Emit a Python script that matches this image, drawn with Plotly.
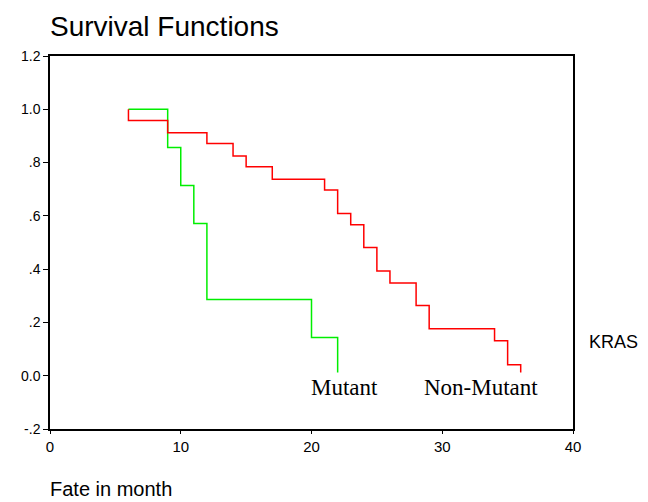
import plotly.graph_objects as go

# Data
mutant_time = [6, 9, 10, 11, 12, 20, 22]
mutant_surv = [1.0, 0.857, 0.714, 0.571, 0.286, 0.143, 0.012]

nonmut_time = [6, 6, 9, 12, 14, 15, 17, 21, 22, 23, 24, 25, 26, 28, 29, 34, 35, 36]
nonmut_surv = [1.0, 0.958, 0.912, 0.872, 0.825, 0.784, 0.737, 0.697, 0.609, 0.567,
               0.481, 0.393, 0.348, 0.264, 0.176, 0.131, 0.041, 0.012]

y_tickvals = [-0.2, 0.0, 0.2, 0.4, 0.6, 0.8, 1.0, 1.2]
y_ticktext = ["-.2", "0.0", ".2", ".4", ".6", ".8", "1.0", "1.2"]
x_tickvals = [0, 10, 20, 30, 40]

SANS = "Liberation Sans, Arial, sans-serif"
SERIF = "Liberation Serif, Times New Roman, serif"

fig = go.Figure()
fig.add_trace(go.Scatter(x=mutant_time, y=mutant_surv, mode="lines", line_shape="hv",
                         line=dict(color="#00ee00", width=1.5), name="Mutant", showlegend=False))
fig.add_trace(go.Scatter(x=nonmut_time, y=nonmut_surv, mode="lines", line_shape="hv",
                         line=dict(color="#ff0000", width=1.5), name="Non-Mutant", showlegend=False))

fig.update_layout(
    width=640, height=494,
    margin=dict(l=42, r=75, t=48, b=73),
    paper_bgcolor="white", plot_bgcolor="white",
    font=dict(family=SANS, color="black"),
    showlegend=False,
    xaxis=dict(range=[0, 40], tickvals=x_tickvals, showgrid=False, zeroline=False,
               showline=True, linecolor="black", linewidth=1.5, mirror=True,
               ticks="outside", ticklen=3, tickcolor="black", tickwidth=1,
               tickfont=dict(family=SANS, size=15, color="black")),
    yaxis=dict(range=[-0.2, 1.2], tickvals=y_tickvals, ticktext=y_ticktext,
               showgrid=False, zeroline=False,
               showline=True, linecolor="black", linewidth=1.5, mirror=True,
               ticks="outside", ticklen=5, tickcolor="black", tickwidth=1,
               tickfont=dict(family=SANS, size=14, color="black")),
    annotations=[
        dict(text="Survival Functions", xref="paper", yref="paper", x=-0.004, y=1.078,
             xanchor="left", yanchor="middle", showarrow=False,
             font=dict(family=SANS, size=28, color="black")),
        dict(text="Fate in month", xref="paper", yref="paper", x=-0.004, y=-0.161,
             xanchor="left", yanchor="middle", showarrow=False,
             font=dict(family=SANS, size=20, color="black")),
        dict(text="KRAS", xref="paper", yref="paper", x=1.078, y=0.233,
             xanchor="center", yanchor="middle", showarrow=False,
             font=dict(family=SANS, size=18, color="black")),
        dict(text="Mutant", xref="x", yref="y", x=22.5, y=-0.045,
             xanchor="center", yanchor="middle", showarrow=False,
             font=dict(family=SERIF, size=23, color="black")),
        dict(text="Non-Mutant", xref="x", yref="y", x=33.0, y=-0.045,
             xanchor="center", yanchor="middle", showarrow=False,
             font=dict(family=SERIF, size=23, color="black")),
    ],
)

fig.write_html("out.html")
